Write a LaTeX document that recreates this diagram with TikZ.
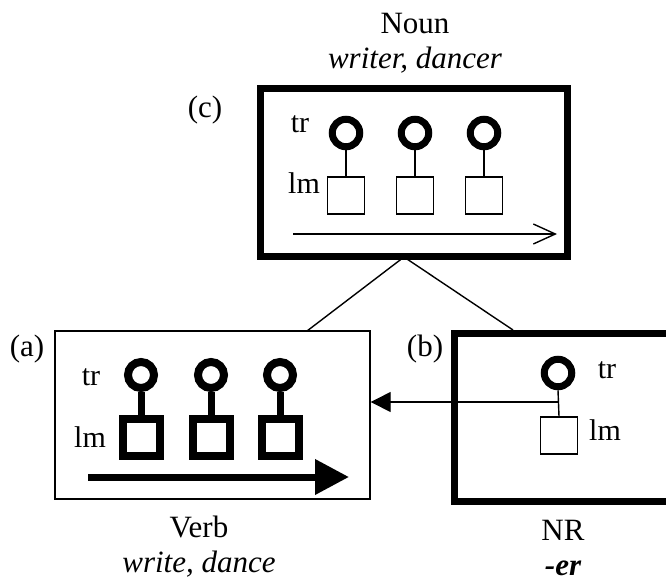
\documentclass[tikz,border=0pt]{standalone}
\usepackage{fontspec}
\setmainfont{Liberation Serif}
\usetikzlibrary{arrows.meta}
\begin{document}
\begin{tikzpicture}[x=1pt,y=-1pt,
  txt/.style={font=\fontsize{31}{36}\selectfont, inner sep=0pt, anchor=base},
  lbl/.style={font=\fontsize{30}{34}\selectfont, inner sep=0pt, anchor=base},
  thickbox/.style={draw, line width=7pt, inner sep=0pt},
  thinbox/.style={draw, line width=1.4pt, inner sep=0pt},
  ringc/.style={circle, draw, line width=7pt, minimum size=27.5pt, inner sep=0pt},
  ringa/.style={circle, draw, line width=8pt, minimum size=26pt, inner sep=0pt},
  sqc/.style={rectangle, draw, line width=1.4pt, minimum size=37pt, inner sep=0pt},
  sqa/.style={rectangle, draw, line width=8pt, minimum size=37pt, inner sep=0pt},
  thin/.style={line width=1.4pt},
  thickline/.style={line width=7pt}
]
\clip (0,0) rectangle (666,581);
\fill[white] (0,0) rectangle (666,581);

% ---- box (c)
\node[thickbox, minimum width=307pt, minimum height=168.5pt] (C) at (414,172.25) {};
\node[txt] (noun) at (415,33) {Noun};
\node[txt] (nounex) at (415,68) {\itshape writer, dancer};
\node[txt] (labc) at (205,117) {(c)};
\node[lbl] (trc) at (300,132) {tr};
\node[lbl] (lmc) at (304,193) {lm};
\foreach \i/\x in {1/346,2/415,3/484}{
  \node[ringc] (cc\i) at (\x,133) {};
  \node[sqc] (sc\i) at (\x,195.5) {};
  \draw[thin] (cc\i.south) -- (sc\i.north);
}
\coordinate (ca0) at (293,234);
\coordinate (ca1) at (557,234);
\draw[thin, -{Straight Barb[length=22pt,width=20pt,line width=1.4pt]}] (ca0) -- (ca1);

% ---- box (a)
\node[thinbox, minimum width=315pt, minimum height=168pt] (A) at (212.5,415) {};
\node[txt] (verb) at (199,537) {Verb};
\node[txt] (verbex) at (199,572) {\itshape write, dance};
\node[txt] (laba) at (27,356) {(a)};
\node[lbl] (tra) at (91,385) {tr};
\node[lbl] (lma) at (90,447) {lm};
\foreach \i/\x in {1/141,2/211,3/280}{
  \node[ringa] (ra\i) at (\x,375) {};
  \node[sqa] (sa\i) at (\x,437.5) {};
  \draw[thickline] (ra\i.south) -- (sa\i.north);
}
\coordinate (aa0) at (88,477);
\coordinate (aa1) at (349,477);
\draw[thickline, -{Triangle[length=34pt,width=34pt]}] (aa0) -- (aa1);

% ---- box (b)
\node[thickbox, minimum width=320pt, minimum height=168pt] (B) at (614.5,417) {};
\node[txt] (nr) at (563,540) {NR};
\node[txt] (nrex) at (563,575) {\bfseries\itshape -er};
\node[txt] (labb) at (425,356) {(b)};
\node[lbl] (trb) at (607,378) {tr};
\node[lbl] (lmb) at (605,440) {lm};
\node[ringc] (cb) at (558,373) {};
\node[sqc] (sb) at (559,435.5) {};
\draw[thin] (cb.south) -- (sb.north);
\coordinate (jb) at (558,402);
\draw[thin, -{Triangle[length=20pt,width=20pt]}] (jb) -- (jb -| A.east);

% ---- connectors
\coordinate (apex) at (404,257);
\coordinate (atop) at (307,331);
\coordinate (btop) at (513,330);
\draw[thin] (apex) -- (atop);
\draw[thin] (apex) -- (btop);
\end{tikzpicture}
\end{document}
